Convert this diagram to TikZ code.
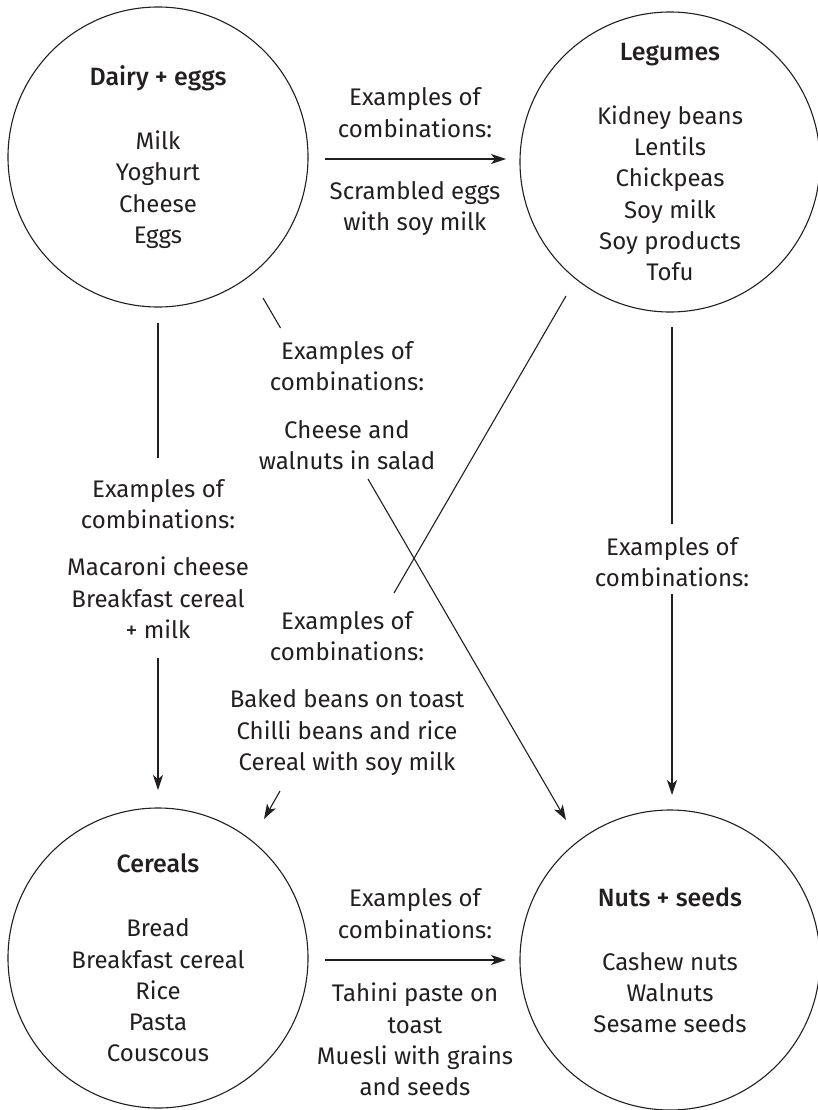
\documentclass[tikz,border=0pt]{standalone}
\usepackage{fontspec}
\setmainfont{Fira Sans}[BoldFont={Fira Sans Medium}]
\usetikzlibrary{arrows.meta}
\definecolor{ink}{HTML}{231F20}
\newcommand{\headline}[1]{{\fontsize{25}{31.3}\selectfont\bfseries #1}}
\begin{document}
\begin{tikzpicture}[x=1pt,y=-1pt,
  txt/.style={text=ink, font=\fontsize{24}{31.3}\selectfont, align=center},
  food/.style={txt, circle, draw=ink, line width=1.1pt, minimum size=300pt, inner sep=0pt},
  lbl/.style={txt, inner sep=0pt},
  link/.style={draw=ink, line width=1.1pt},
  arr/.style={link, -{Stealth[length=15pt,width=10pt,inset=4pt]}}]
\useasboundingbox (0,0) rectangle (818,1110);
% circles
\node[food] (dairy) at (158,157) {\headline{Dairy + eggs}\\[32.7pt]Milk\\Yoghurt\\Cheese\\Eggs};
\node[food] (legumes) at (670,162) {\headline{Legumes}\\[32.7pt]Kidney beans\\Lentils\\Chickpeas\\Soy milk\\Soy products\\Tofu};
\node[food] (cereals) at (158,958) {\headline{Cereals}\\[32.7pt]Bread\\Breakfast cereal\\Rice\\Pasta\\Couscous};
\node[food] (nuts) at (670,960) {\headline{Nuts + seeds}\\[32.7pt]Cashew nuts\\Walnuts\\Sesame seeds};
% top: dairy -> legumes
\coordinate (dl1) at (325,159);
\coordinate (dl2) at (506,159);
\draw[arr] (dl1) -- (dl2);
\node[lbl] (dlA) at (415,112.5) {Examples of\\combinations:};
\node[lbl] (dlB) at (415,208.5) {Scrambled eggs\\with soy milk};
% bottom: cereals -> nuts
\coordinate (cn1) at (325,960);
\coordinate (cn2) at (506,960);
\draw[arr] (cn1) -- (cn2);
\node[lbl] (cnA) at (415,913.5) {Examples of\\combinations:};
\node[lbl] (cnB) at (415,1039.5) {Tahini paste on\\toast\\Muesli with grains\\and seeds};
% left vertical: dairy -> cereals
\coordinate (dc1) at (158,323);
\coordinate (dc2) at (158,458);
\coordinate (dc3) at (158,658);
\coordinate (dc4) at (158,790);
\draw[link] (dc1) -- (dc2);
\draw[arr] (dc3) -- (dc4);
\node[lbl] (dcA) at (158,559) {Examples of\\combinations:\\[16pt]Macaroni cheese\\Breakfast cereal\\+ milk};
% right vertical: legumes -> nuts
\coordinate (ln1) at (672,327);
\coordinate (ln2) at (672,524);
\coordinate (ln3) at (672,594);
\coordinate (ln4) at (672,795);
\draw[link] (ln1) -- (ln2);
\draw[arr] (ln3) -- (ln4);
\node[lbl] (lnA) at (672,562) {Examples of\\combinations:};
% diagonal: dairy -> nuts
\coordinate (dn1) at (263,298);
\coordinate (dn2) at (280.5,328);
\coordinate (dn3) at (368,479);
\coordinate (dn4) at (566,820);
\draw[link] (dn1) -- (dn2);
\draw[arr] (dn3) -- (dn4);
\node[lbl] (dnA) at (347,405.5) {Examples of\\combinations:\\[16pt]Cheese and\\walnuts in salad};
% diagonal: legumes -> cereals
\coordinate (lc1) at (566,296);
\coordinate (lc2) at (394,593);
\coordinate (lc3) at (280,791);
\coordinate (lc4) at (264,819);
\draw[link] (lc1) -- (lc2);
\draw[arr] (lc3) -- (lc4);
\node[lbl] (lcA) at (347,693.5) {Examples of\\combinations:\\[16pt]Baked beans on toast\\Chilli beans and rice\\Cereal with soy milk};
\end{tikzpicture}
\end{document}
